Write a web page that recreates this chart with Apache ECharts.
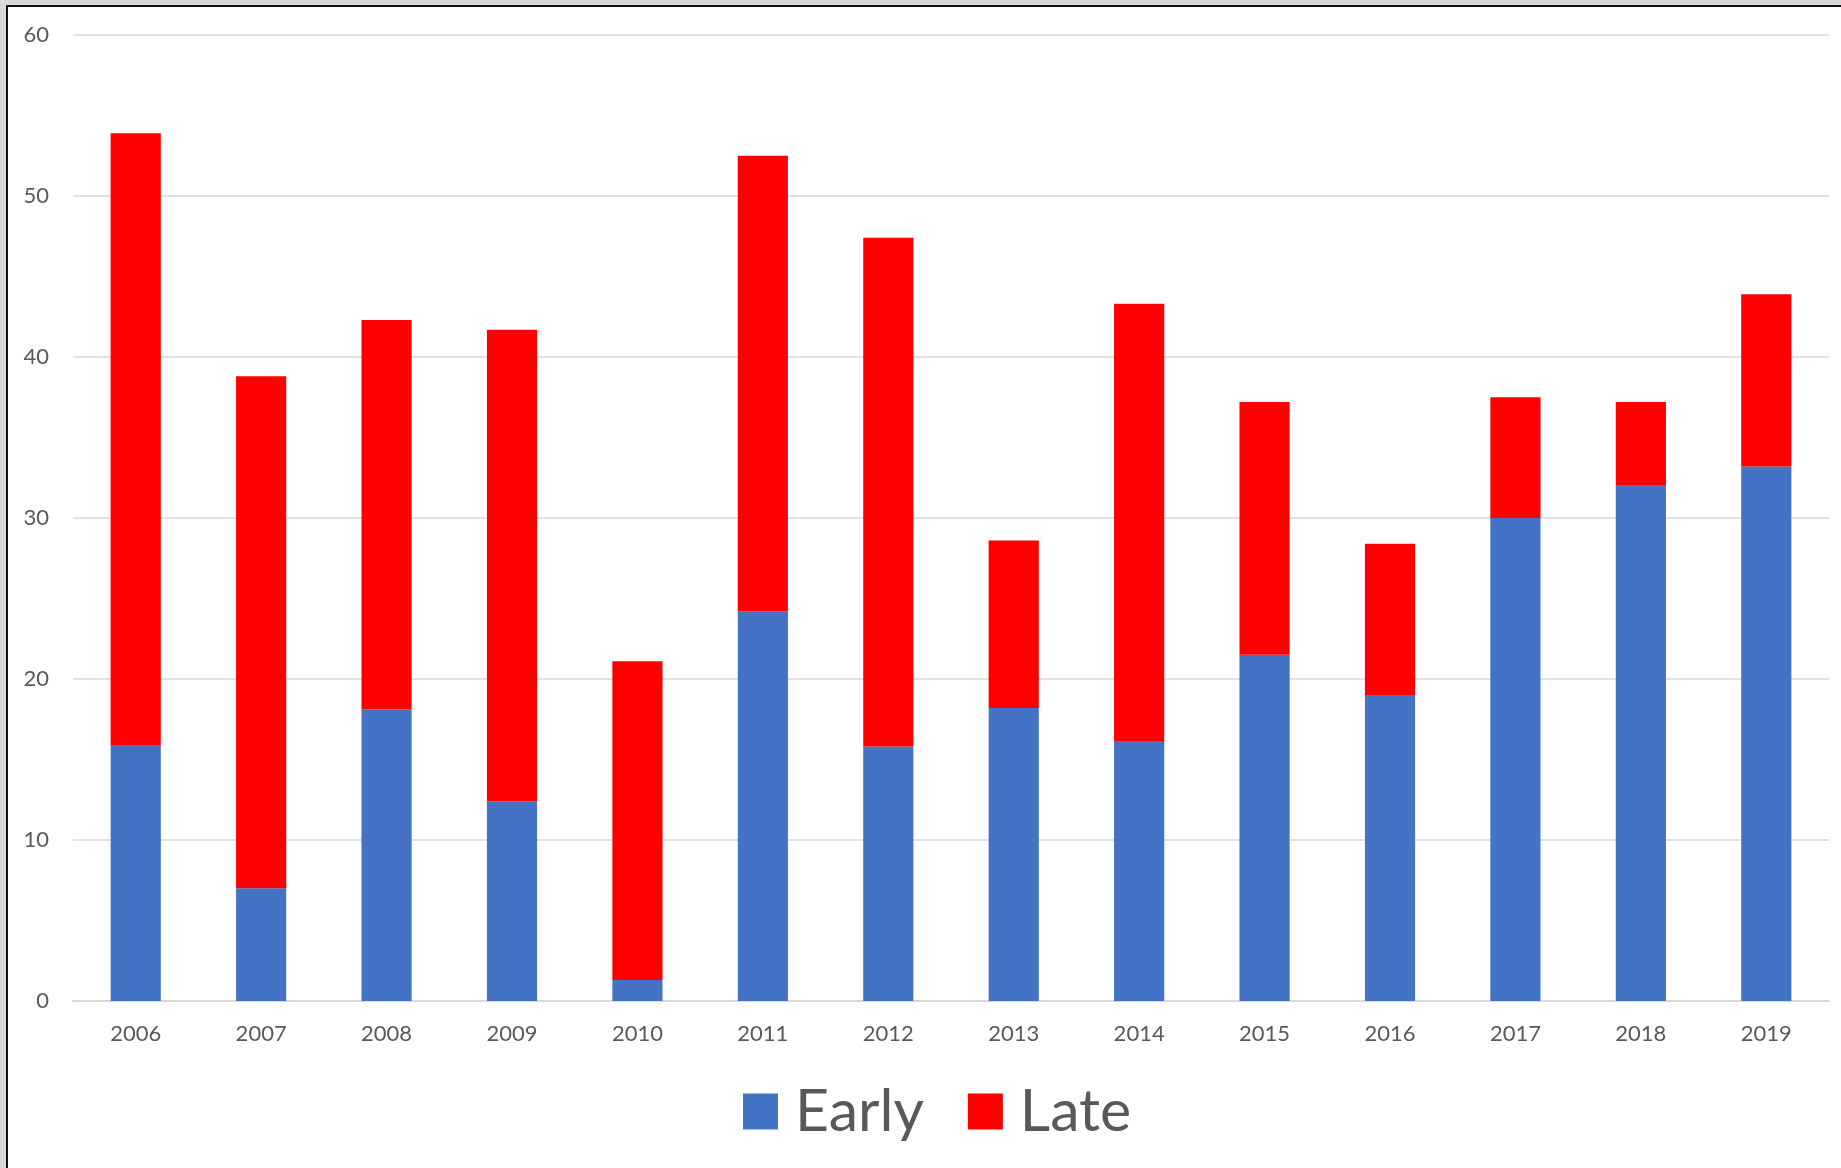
<!DOCTYPE html>
<html>
<head>
<meta charset="utf-8">
<script src="https://cdn.jsdelivr.net/npm/echarts@6/dist/echarts.min.js"></script>
<style>
  html, body { margin: 0; padding: 0; background: #d9d9d9; width: 1841px; height: 1168px; overflow: hidden; }
  #box { position: absolute; left: 6px; top: 5px; width: 1900px; height: 1200px; background: #ffffff; border-left: 2px solid #111; border-top: 2px solid #111; }
  #chart { position: absolute; left: 0; top: 0; width: 1841px; height: 1168px; }
</style>
</head>
<body>
<div id="box"></div>
<div id="chart"></div>
<script>
const years = ['2006','2007','2008','2009','2010','2011','2012','2013','2014','2015','2016','2017','2018','2019'];
const early = [15.9, 7.0, 18.1, 12.4, 1.3, 24.2, 15.8, 18.2, 16.1, 21.5, 19.0, 30.0, 32.0, 33.2];
const late  = [38.0, 31.8, 24.2, 29.3, 19.8, 28.3, 31.6, 10.4, 27.2, 15.7, 9.4, 7.5, 5.2, 10.7];
const seriesNames = ['Early', 'Late'];

const chart = echarts.init(document.getElementById('chart'));
const font = 'Lato, "Open Sans", sans-serif';
chart.setOption({
  animation: false,
  grid: { left: 73, right: 12, top: 35, bottom: 167, containLabel: false },
  legend: {
    data: seriesNames,
    left: 738,
    bottom: 22,
    itemWidth: 35,
    itemHeight: 36,
    itemGap: 44,
    icon: 'rect',
    textStyle: { fontFamily: font, fontSize: 59, color: '#595959', padding: [0, 0, 0, 12] }
  },
  xAxis: {
    type: 'category',
    data: years,
    axisLine: { lineStyle: { color: '#d9d9d9', width: 2 } },
    axisTick: { show: false },
    axisLabel: { fontFamily: font, fontSize: 22, color: '#595959', margin: 22 }
  },
  yAxis: {
    type: 'value',
    min: 0, max: 60, interval: 10,
    axisLine: { show: false },
    axisTick: { show: false },
    splitLine: { lineStyle: { color: '#d9d9d9', width: 1.5 } },
    axisLabel: { fontFamily: font, fontSize: 22, color: '#595959', margin: 24 }
  },
  series: [
    { name: seriesNames[0], type: 'bar', stack: 'all', data: early, barWidth: '40%', itemStyle: { color: '#4472c4' } },
    { name: seriesNames[1], type: 'bar', stack: 'all', data: late, barWidth: '40%', itemStyle: { color: '#ff0000' } }
  ]
});
</script>
</body>
</html>
